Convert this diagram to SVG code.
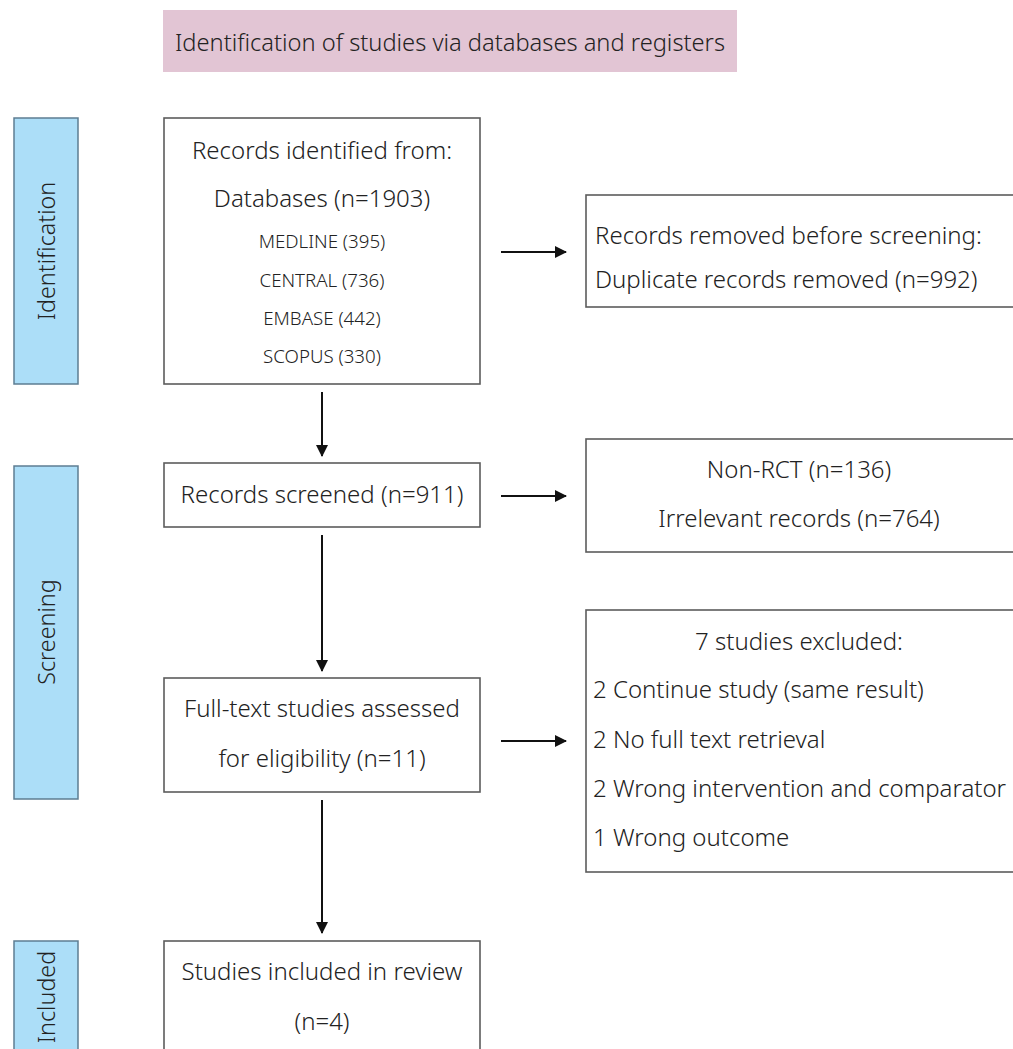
<svg xmlns="http://www.w3.org/2000/svg" width="1013" height="1049" viewBox="0 0 1013 1049">
  <style>
    text { font-family: "Noto Sans", "Open Sans", sans-serif; font-weight: 300; fill: #222222; }
    .t { font-size: 24px; }
    .s { font-size: 18.7px; }
    .c { text-anchor: middle; }
    .box { fill: #ffffff; stroke: #5c5c5c; stroke-width: 1.6; }
    .phase { fill: #acdef8; stroke: #5d7d92; stroke-width: 1.5; }
    .phase-label { font-size: 23.3px; text-anchor: middle; }
    .conn { stroke: #111111; stroke-width: 2; fill: none; }
  </style>
  <defs>
    <marker id="head" viewBox="0 0 12 12" refX="11" refY="6" markerWidth="12" markerHeight="12" markerUnits="userSpaceOnUse" orient="auto">
      <path d="M0,0 L12,6 L0,12 Z" fill="#111111"/>
    </marker>
  </defs>

  <rect width="1013" height="1049" fill="#ffffff"/>

  <!-- header banner -->
  <g id="header">
    <rect x="163" y="10" width="574" height="62" fill="#e2c5d4"/>
    <text class="c" x="450" y="51" font-size="23.5" textLength="550" lengthAdjust="spacingAndGlyphs">Identification of studies via databases and registers</text>
  </g>

  <!-- phase bands on the left -->
  <g id="phase-identification">
    <rect class="phase" x="14" y="118" width="64" height="266"/>
    <text class="phase-label" transform="translate(55,251) rotate(-90)">Identification</text>
  </g>
  <g id="phase-screening">
    <rect class="phase" x="14" y="466" width="64" height="333"/>
    <text class="phase-label" transform="translate(55,632) rotate(-90)">Screening</text>
  </g>
  <g id="phase-included">
    <rect class="phase" x="14" y="941" width="64" height="120"/>
    <text class="phase-label" transform="translate(55,997) rotate(-90)">Included</text>
  </g>

  <!-- main column -->
  <g id="records-identified">
    <rect class="box" x="164" y="118" width="316" height="266"/>
    <text class="t c" x="322" y="159">Records identified from:</text>
    <text class="t c" x="322" y="207">Databases (n=1903)</text>
    <text class="s c" x="322" y="248">MEDLINE (395)</text>
    <text class="s c" x="322" y="287">CENTRAL (736)</text>
    <text class="s c" x="322" y="325">EMBASE (442)</text>
    <text class="s c" x="322" y="363">SCOPUS (330)</text>
  </g>
  <g id="records-screened">
    <rect class="box" x="164" y="463" width="316" height="64"/>
    <text class="t c" x="322" y="503">Records screened (n=911)</text>
  </g>
  <g id="full-text-assessed">
    <rect class="box" x="164" y="678" width="316" height="114"/>
    <text class="t c" x="322" y="717">Full-text studies assessed</text>
    <text class="t c" x="322" y="767">for eligibility (n=11)</text>
  </g>
  <g id="studies-included">
    <rect class="box" x="164" y="941" width="316" height="130"/>
    <text class="t c" x="322" y="980">Studies included in review</text>
    <text class="t c" x="322" y="1030">(n=4)</text>
  </g>

  <!-- exclusion column -->
  <g id="records-removed">
    <rect class="box" x="586" y="195" width="440" height="112"/>
    <text class="t" x="595" y="244">Records removed before screening:</text>
    <text class="t" x="595" y="288">Duplicate records removed (n=992)</text>
  </g>
  <g id="records-excluded">
    <rect class="box" x="586" y="439" width="440" height="113"/>
    <text class="t c" x="799" y="478">Non-RCT (n=136)</text>
    <text class="t c" x="799" y="527">Irrelevant records (n=764)</text>
  </g>
  <g id="studies-excluded">
    <rect class="box" x="586" y="610" width="440" height="262"/>
    <text class="t c" x="799" y="650">7 studies excluded:</text>
    <text class="t" x="593" y="698">2 Continue study (same result)</text>
    <text class="t" x="593" y="748">2 No full text retrieval</text>
    <text class="t" x="593" y="797">2 Wrong intervention and comparator</text>
    <text class="t" x="593" y="846">1 Wrong outcome</text>
  </g>

  <!-- connectors -->
  <g id="connectors">
    <line class="conn" x1="322" y1="392" x2="322" y2="456" marker-end="url(#head)"/>
    <line class="conn" x1="322" y1="535" x2="322" y2="671" marker-end="url(#head)"/>
    <line class="conn" x1="322" y1="800" x2="322" y2="933" marker-end="url(#head)"/>
    <line class="conn" x1="501" y1="252" x2="566" y2="252" marker-end="url(#head)"/>
    <line class="conn" x1="501" y1="496" x2="566" y2="496" marker-end="url(#head)"/>
    <line class="conn" x1="501" y1="741" x2="566" y2="741" marker-end="url(#head)"/>
  </g>
</svg>
